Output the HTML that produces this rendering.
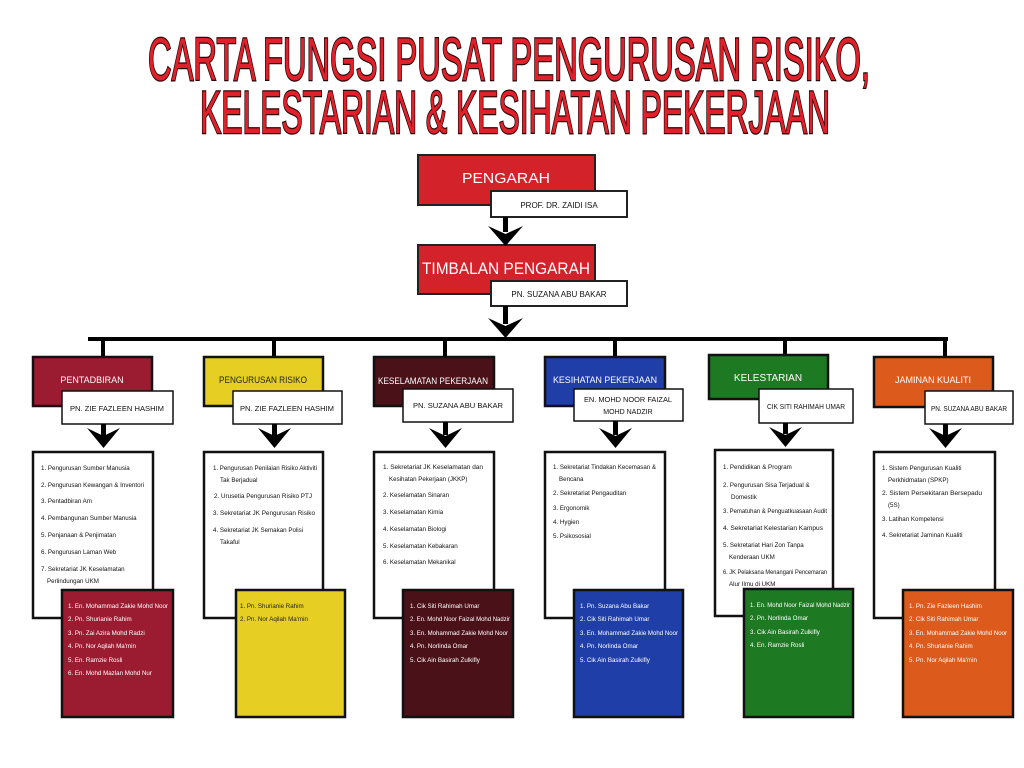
<!DOCTYPE html>
<html><head><meta charset="utf-8"><style>
html,body{margin:0;padding:0;background:#fff}
svg{display:block}
text{font-family:"Liberation Sans",sans-serif}
</style></head><body>
<svg width="1024" height="768" viewBox="0 0 1024 768" xmlns="http://www.w3.org/2000/svg">
<rect width="1024" height="768" fill="#fff"/>
<g fill="#e0202a" stroke="#2a0505" stroke-width="2.5" paint-order="stroke">
<text x="148" y="80" font-size="60" textLength="722" lengthAdjust="spacingAndGlyphs">CARTA FUNGSI PUSAT PENGURUSAN RISIKO,</text>
<text x="200" y="133" font-size="60" textLength="630" lengthAdjust="spacingAndGlyphs">KELESTARIAN &amp; KESIHATAN PEKERJAAN</text>
</g>
<g stroke="#222" stroke-width="2">
<rect x="418" y="155" width="177" height="50" fill="#d3222a"/>
<rect x="491" y="191" width="136" height="26" fill="#fff"/>
<rect x="418" y="245" width="177" height="49" fill="#d3222a"/>
<rect x="491" y="281" width="136" height="25" fill="#fff"/>
</g>
<g font-size="15" fill="#fff">
<text x="462" y="183" textLength="88" lengthAdjust="spacingAndGlyphs">PENGARAH</text>
<text x="422" y="274" font-size="17" textLength="168" lengthAdjust="spacingAndGlyphs">TIMBALAN PENGARAH</text>
</g>
<g font-size="8" fill="#111" text-anchor="middle">
<text x="559" y="208">PROF. DR. ZAIDI ISA</text>
<text x="559" y="297">PN. SUZANA ABU BAKAR</text>
</g>
<g fill="#000">
<rect x="503" y="217" width="5" height="15"/><polygon points="505.5,246 488,226 505.5,234 523,226"/>
<rect x="503" y="306" width="5" height="18"/><polygon points="505.5,338 488,318 505.5,326 523,318"/>
<rect x="88" y="337" width="860" height="4"/>
<rect x="101" y="337" width="4" height="22"/>
<rect x="272" y="337" width="4" height="22"/>
<rect x="443" y="337" width="4" height="22"/>
<rect x="613" y="337" width="4" height="22"/>
<rect x="783" y="337" width="4" height="20"/>
<rect x="943" y="337" width="4" height="22"/>
</g>
<g stroke="#111" stroke-width="2.5">
<rect x="33" y="357" width="119" height="49" fill="#9b1b30"/>
<rect x="204" y="357" width="119" height="49" fill="#e6cf22"/>
<rect x="374" y="357" width="120" height="49" fill="#4a1119"/>
<rect x="545" y="357" width="120" height="49" fill="#1f3ea8"/>
<rect x="709" y="355" width="119" height="44" fill="#1e7a22"/>
<rect x="874" y="357" width="119" height="50" fill="#dc5a1c"/>
</g>
<g stroke="#111" stroke-width="1.5" fill="#fff">
<rect x="62" y="391" width="111" height="33"/>
<rect x="233" y="391" width="109" height="33"/>
<rect x="403" y="389" width="110" height="33"/>
<rect x="574" y="389" width="109" height="32"/>
<rect x="759" y="389" width="94" height="34"/>
<rect x="925" y="391" width="88" height="33"/>
</g>
<g font-size="9" fill="#fff" text-anchor="middle">
<text x="92" y="383">PENTADBIRAN</text>
<text x="263" y="383" fill="#222" textLength="88" lengthAdjust="spacingAndGlyphs">PENGURUSAN RISIKO</text>
<text x="433" y="384" textLength="110" lengthAdjust="spacingAndGlyphs">KESELAMATAN PEKERJAAN</text>
<text x="605" y="383" textLength="104" lengthAdjust="spacingAndGlyphs">KESIHATAN PEKERJAAN</text>
<text x="768" y="381" font-size="10">KELESTARIAN</text>
<text x="933" y="383">JAMINAN KUALITI</text>
</g>
<g font-size="7" fill="#111" text-anchor="middle">
<text x="117" y="411" textLength="94" lengthAdjust="spacingAndGlyphs">PN. ZIE FAZLEEN HASHIM</text>
<text x="287" y="411" textLength="94" lengthAdjust="spacingAndGlyphs">PN. ZIE FAZLEEN HASHIM</text>
<text x="458" y="408" textLength="90" lengthAdjust="spacingAndGlyphs">PN. SUZANA ABU BAKAR</text>
<text x="628" y="402" textLength="88" lengthAdjust="spacingAndGlyphs">EN. MOHD NOOR FAIZAL</text>
<text x="628" y="414">MOHD NADZIR</text>
<text x="806" y="409" textLength="78" lengthAdjust="spacingAndGlyphs">CIK SITI RAHIMAH UMAR</text>
<text x="969" y="411" textLength="76" lengthAdjust="spacingAndGlyphs">PN. SUZANA ABU BAKAR</text>
</g>
<g fill="#000">
<rect x="101" y="424" width="5" height="12"/><polygon points="103.5,448 87,428 103.5,436 120,428"/>
<rect x="272" y="424" width="5" height="12"/><polygon points="274.5,448 258,428 274.5,436 291,428"/>
<rect x="443" y="422" width="5" height="13"/><polygon points="445.5,448 429,428 445.5,436 462,428"/>
<rect x="613" y="421" width="5" height="14"/><polygon points="615.5,448 599,428 615.5,436 632,428"/>
<rect x="783" y="423" width="5" height="11"/><polygon points="785.5,447 769,427 785.5,435 802,427"/>
<rect x="943" y="424" width="5" height="12"/><polygon points="945.5,448 929,428 945.5,436 962,428"/>
</g>
<g stroke="#111" stroke-width="2.5" fill="#fff">
<rect x="33" y="452" width="120" height="166"/>
<rect x="204" y="452" width="119" height="166"/>
<rect x="374" y="452" width="120" height="166"/>
<rect x="545" y="452" width="120" height="166"/>
<rect x="715" y="450" width="118" height="166"/>
<rect x="874" y="452" width="121" height="166"/>
</g>
<g font-size="6.2" fill="#111" lengthAdjust="spacingAndGlyphs">
<text x="41" y="470">1. Pengurusan Sumber Manusia</text>
<text x="41" y="487" textLength="103" lengthAdjust="spacingAndGlyphs">2.  Pengurusan Kewangan &amp; Inventori</text>
<text x="41" y="503">3. Pentadbiran Am</text>
<text x="41" y="520">4. Pembangunan Sumber Manusia</text>
<text x="41" y="537">5. Penjanaan &amp; Penjimatan</text>
<text x="41" y="554">6. Pengurusan Laman Web</text>
<text x="41" y="571">7. Sekretariat JK Keselamatan</text>
<text x="47" y="583">Perlindungan UKM</text>

<text x="213" y="470" textLength="104" lengthAdjust="spacingAndGlyphs">1. Pengurusan Penilaian Risiko Aktiviti</text>
<text x="220" y="482">Tak Berjadual</text>
<text x="214" y="498" textLength="98" lengthAdjust="spacingAndGlyphs">2.  Urusetia Pengurusan Risiko PTJ</text>
<text x="213" y="515" textLength="102" lengthAdjust="spacingAndGlyphs">3. Sekretariat JK Pengurusan Risiko</text>
<text x="213" y="532">4. Sekretariat JK Semakan Polisi</text>
<text x="220" y="544">Takaful</text>

<text x="383" y="469" textLength="100" lengthAdjust="spacingAndGlyphs">1. Sekretariat JK Keselamatan dan</text>
<text x="389" y="481">Kesihatan Pekerjaan (JKKP)</text>
<text x="383" y="497">2. Keselamatan Sinaran</text>
<text x="383" y="514">3.  Keselamatan Kimia</text>
<text x="383" y="531">4. Keselamatan Biologi</text>
<text x="383" y="548">5.  Keselamatan Kebakaran</text>
<text x="383" y="564">6.  Keselamatan Mekanikal</text>

<text x="553" y="469" textLength="103" lengthAdjust="spacingAndGlyphs">1. Sekretariat Tindakan Kecemasan &amp;</text>
<text x="559" y="481">Bencana</text>
<text x="553" y="495">2. Sekretariat Pengauditan</text>
<text x="553" y="510">3. Ergonomik</text>
<text x="553" y="524">4. Hygien</text>
<text x="553" y="538">5. Psikososial</text>

<text x="723" y="469">1. Pendidikan &amp; Program</text>
<text x="723" y="487">2.  Pengurusan Sisa Terjadual &amp;</text>
<text x="731" y="499">Domestik</text>
<text x="723" y="513" textLength="104" lengthAdjust="spacingAndGlyphs">3. Pematuhan &amp; Penguatkuasaan Audit</text>
<text x="723" y="530" textLength="100" lengthAdjust="spacingAndGlyphs">4. Sekretariat Kelestarian Kampus</text>
<text x="723" y="547">5. Sekretariat Hari Zon Tanpa</text>
<text x="729" y="559">Kenderaan UKM</text>
<text x="723" y="574" textLength="104" lengthAdjust="spacingAndGlyphs">6. JK Pelaksana Menangani Pencemaran</text>
<text x="729" y="586">Alur Ilmu di UKM</text>

<text x="882" y="470">1. Sistem Pengurusan Kualiti</text>
<text x="888" y="482">Perkhidmatan (SPKP)</text>
<text x="882" y="495" textLength="100" lengthAdjust="spacingAndGlyphs">2. Sistem Persekitaran Bersepadu</text>
<text x="888" y="507">(5S)</text>
<text x="882" y="521">3. Latihan Kompetensi</text>
<text x="882" y="537">4. Sekretariat Jaminan Kualiti</text>
</g>
<g stroke="#111" stroke-width="2.5">
<rect x="62" y="590" width="111" height="127" fill="#9b1b30"/>
<rect x="236" y="590" width="109" height="127" fill="#e6cf22"/>
<rect x="403" y="590" width="110" height="127" fill="#4a1119"/>
<rect x="574" y="590" width="109" height="127" fill="#1f3ea8"/>
<rect x="744" y="589" width="109" height="128" fill="#1e7a22"/>
<rect x="903" y="590" width="110" height="127" fill="#dc5a1c"/>
</g>
<g font-size="6.2" fill="#fff">
<text x="68" y="608" textLength="100" lengthAdjust="spacingAndGlyphs">1.  En. Mohammad Zakie Mohd Noor</text>
<text x="68" y="621">2. Pn. Shurianie Rahim</text>
<text x="68" y="635">3. Pn. Zai Azira Mohd Radzi</text>
<text x="68" y="648">4. Pn. Nor Aqilah Ma'min</text>
<text x="68" y="662">5. En. Ramzie Rosli</text>
<text x="68" y="675">6. En. Mohd Mazlan Mohd Nur</text>

<text x="240" y="608" fill="#222">1. Pn. Shurianie Rahim</text>
<text x="240" y="621" fill="#222">2. Pn. Nor Aqilah Ma'min</text>

<text x="410" y="608">1.  Cik Siti Rahimah Umar</text>
<text x="410" y="621" textLength="100" lengthAdjust="spacingAndGlyphs">2. En. Mohd Noor Faizal Mohd Nadzir</text>
<text x="410" y="635" textLength="98" lengthAdjust="spacingAndGlyphs">3. En. Mohammad Zakie Mohd Noor</text>
<text x="410" y="648">4. Pn. Norlinda Omar</text>
<text x="410" y="662">5. Cik Ain Basirah Zulkifly</text>

<text x="580" y="608">1.  Pn. Suzana Abu Bakar</text>
<text x="580" y="621">2. Cik Siti Rahimah Umar</text>
<text x="580" y="635" textLength="98" lengthAdjust="spacingAndGlyphs">3. En. Mohammad Zakie Mohd Noor</text>
<text x="580" y="648">4. Pn. Norlinda Omar</text>
<text x="580" y="662">5. Cik Ain Basirah Zulkifly</text>

<text x="750" y="607" textLength="100" lengthAdjust="spacingAndGlyphs">1.  En. Mohd Noor Faizal Mohd Nadzir</text>
<text x="750" y="620">2. Pn. Norlinda Omar</text>
<text x="750" y="634">3. Cik Ain Basirah Zulkifly</text>
<text x="750" y="647">4. En. Ramzie Rosli</text>

<text x="909" y="608">1.  Pn. Zie Fazleen Hashim</text>
<text x="909" y="621">2. Cik Siti Rahimah Umar</text>
<text x="909" y="635" textLength="98" lengthAdjust="spacingAndGlyphs">3. En. Mohammad Zakie Mohd Noor</text>
<text x="909" y="648">4. Pn. Shurianie Rahim</text>
<text x="909" y="662">5. Pn. Nor Aqilah Ma'min</text>
</g>
</svg>
</body></html>
